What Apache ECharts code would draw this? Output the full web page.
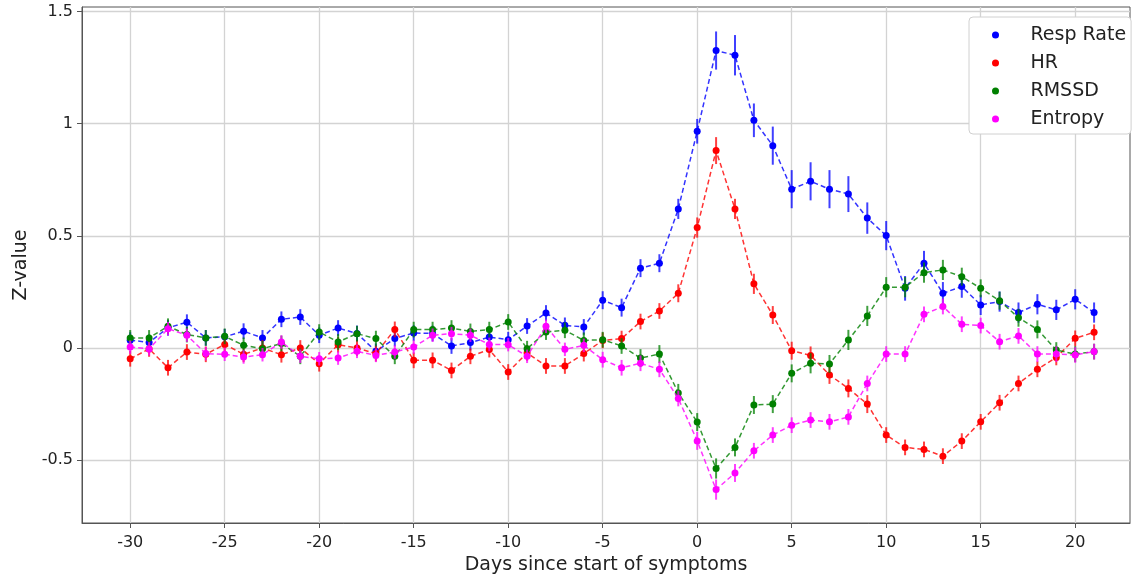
<!DOCTYPE html>
<html>
<head>
<meta charset="utf-8">
<script src="https://cdn.jsdelivr.net/npm/echarts@6.0.0/dist/echarts.min.js"></script>
<style>
  html, body { margin: 0; padding: 0; background: #fff; }
  #chart { width: 1132px; height: 574px; }
</style>
</head>
<body>
<div id="chart"></div>
<script>
// days since start of symptoms
var days = [];
for (var d = -30; d <= 21; d++) days.push(d);

var xTicks = [-30, -25, -20, -15, -10, -5, 0, 5, 10, 15, 20];
var yTicks = [-0.5, 0, 0.5, 1, 1.5];

// Resp Rate
var respRate = [0.035, 0.025, 0.09, 0.115, 0.045, 0.05, 0.075, 0.045, 0.128, 0.138,
  0.057, 0.089, 0.065, -0.015, 0.042, 0.067, 0.065, 0.009, 0.024, 0.049,
  0.037, 0.098, 0.156, 0.101, 0.094, 0.213, 0.18, 0.356, 0.378, 0.62,
  0.966, 1.326, 1.305, 1.015, 0.902, 0.708, 0.743, 0.708, 0.686, 0.579,
  0.501, 0.266, 0.378, 0.244, 0.274, 0.192, 0.207, 0.158, 0.195, 0.17,
  0.217, 0.158];
var respErr = [0.035, 0.035, 0.035, 0.035, 0.035, 0.035, 0.035, 0.035, 0.035, 0.035,
  0.035, 0.035, 0.035, 0.035, 0.035, 0.035, 0.035, 0.035, 0.035, 0.035,
  0.035, 0.035, 0.035, 0.035, 0.035, 0.04, 0.04, 0.04, 0.04, 0.045,
  0.055, 0.085, 0.09, 0.075, 0.085, 0.085, 0.085, 0.085, 0.08, 0.07,
  0.065, 0.055, 0.055, 0.05, 0.05, 0.045, 0.045, 0.045, 0.045, 0.045,
  0.045, 0.045];

// HR
var hr = [-0.048, -0.004, -0.088, -0.018, -0.028, 0.016, -0.028, 0.0, -0.03, 0.0,
  -0.07, 0.015, 0.0, -0.025, 0.083, -0.055, -0.055, -0.1, -0.037, -0.007,
  -0.107, -0.022, -0.08, -0.08, -0.025, 0.034, 0.042, 0.118, 0.165, 0.244,
  0.537, 0.88, 0.62, 0.286, 0.147, -0.012, -0.033, -0.12, -0.18, -0.25,
  -0.388, -0.443, -0.452, -0.482, -0.415, -0.329, -0.244, -0.158, -0.095, -0.042,
  0.043, 0.07];
var hrErr = [0.035, 0.035, 0.035, 0.035, 0.035, 0.035, 0.035, 0.035, 0.035, 0.035,
  0.035, 0.035, 0.035, 0.035, 0.035, 0.035, 0.035, 0.035, 0.035, 0.035,
  0.035, 0.035, 0.035, 0.035, 0.035, 0.035, 0.035, 0.035, 0.035, 0.04,
  0.045, 0.06, 0.045, 0.045, 0.04, 0.04, 0.04, 0.04, 0.04, 0.04,
  0.035, 0.035, 0.035, 0.035, 0.035, 0.035, 0.035, 0.035, 0.035, 0.035,
  0.035, 0.035];

// RMSSD
var rmssd = [0.045, 0.045, 0.097, 0.06, 0.045, 0.052, 0.012, -0.003, 0.02, -0.037,
  0.071, 0.027, 0.064, 0.042, -0.037, 0.082, 0.082, 0.089, 0.074, 0.082,
  0.116, -0.003, 0.071, 0.079, 0.034, 0.037, 0.009, -0.045, -0.027, -0.2,
  -0.33, -0.537, -0.443, -0.254, -0.25, -0.113, -0.068, -0.071, 0.036, 0.143,
  0.271, 0.271, 0.336, 0.348, 0.318, 0.266, 0.211, 0.135, 0.083, -0.009,
  -0.027, -0.016];
var rmssdErr = [0.035, 0.035, 0.035, 0.035, 0.035, 0.035, 0.035, 0.035, 0.035, 0.035,
  0.035, 0.035, 0.035, 0.035, 0.035, 0.035, 0.035, 0.035, 0.035, 0.035,
  0.035, 0.035, 0.035, 0.035, 0.035, 0.035, 0.035, 0.04, 0.04, 0.04,
  0.04, 0.045, 0.04, 0.04, 0.04, 0.04, 0.045, 0.04, 0.045, 0.045,
  0.045, 0.045, 0.045, 0.045, 0.04, 0.04, 0.04, 0.04, 0.04, 0.035,
  0.035, 0.035];

// Entropy
var entropy = [0.004, -0.004, 0.086, 0.057, -0.025, -0.028, -0.04, -0.03, 0.027, -0.037,
  -0.048, -0.045, -0.015, -0.033, -0.018, 0.004, 0.057, 0.064, 0.057, 0.016,
  0.015, -0.037, 0.097, -0.006, 0.012, -0.052, -0.088, -0.068, -0.095, -0.225,
  -0.414, -0.631, -0.557, -0.458, -0.388, -0.344, -0.321, -0.329, -0.307, -0.158,
  -0.027, -0.027, 0.15, 0.185, 0.106, 0.1, 0.028, 0.054, -0.027, -0.027,
  -0.031, -0.016];
var entropyErr = [0.03, 0.03, 0.03, 0.03, 0.03, 0.03, 0.03, 0.03, 0.03, 0.03,
  0.03, 0.03, 0.03, 0.03, 0.03, 0.03, 0.03, 0.03, 0.03, 0.03,
  0.03, 0.03, 0.03, 0.03, 0.03, 0.035, 0.035, 0.035, 0.035, 0.035,
  0.04, 0.045, 0.04, 0.035, 0.035, 0.035, 0.035, 0.035, 0.035, 0.035,
  0.035, 0.035, 0.035, 0.035, 0.035, 0.035, 0.035, 0.035, 0.035, 0.035,
  0.035, 0.035];

var seriesDefs = [
  {name: 'Resp Rate', color: '#0000ff', values: respRate, err: respErr},
  {name: 'HR', color: '#ff0000', values: hr, err: hrErr},
  {name: 'RMSSD', color: '#008000', values: rmssd, err: rmssdErr},
  {name: 'Entropy', color: '#ff00ff', values: entropy, err: entropyErr}
];

var FONT = 'DejaVu Sans';
var series = [];
seriesDefs.forEach(function (s, i) {
  var pts = [], bars = [];
  for (var k = 0; k < days.length; k++) {
    pts.push([days[k], s.values[k]]);
    bars.push([days[k], s.values[k] - s.err[k], s.values[k] + s.err[k]]);
  }
  // error bars
  series.push({
    name: s.name + ' err',
    type: 'custom',
    z: 2 + i * 2,
    silent: true,
    data: bars,
    encode: {x: 0, y: [1, 2]},
    renderItem: function (params, api) {
      var x = api.value(0);
      var p1 = api.coord([x, api.value(1)]);
      var p2 = api.coord([x, api.value(2)]);
      return {
        type: 'line',
        shape: {x1: p1[0], y1: p1[1], x2: p2[0], y2: p2[1]},
        style: {stroke: s.color, lineWidth: 2, opacity: 0.75}
      };
    }
  });
  series.push({
    name: s.name,
    type: 'line',
    z: 3 + i * 2,
    data: pts,
    symbol: 'circle',
    symbolSize: 7,
    showAllSymbol: true,
    itemStyle: {color: s.color},
    lineStyle: {color: s.color, width: 1.5, type: [5, 3], opacity: 0.8}
  });
});

var chart = echarts.init(document.getElementById('chart'));
var option = {
  animation: false,
  backgroundColor: '#fff',
  grid: {
    left: 82, right: 2, top: 7, bottom: 51,
    outerBoundsMode: 'none',
    show: true, borderColor: '#555', borderWidth: 1
  },
  legend: {
    data: seriesDefs.map(function (s) { return s.name; }),
    orient: 'vertical',
    left: 969, top: 17,
    padding: [8, 5, 5, 23],
    itemGap: 8,
    itemWidth: 30,
    itemHeight: 7,
    icon: 'circle',
    backgroundColor: '#fff',
    borderColor: '#d0d0d0',
    borderWidth: 1,
    borderRadius: 4,
    textStyle: {fontFamily: FONT, fontSize: 19, color: '#222', lineHeight: 20, padding: [0, 0, 0, 15]}
  },
  xAxis: {
    type: 'value',
    min: -32.55,
    max: 22.9,
    name: 'Days since start of symptoms',
    nameLocation: 'middle',
    nameGap: 30,
    nameTextStyle: {fontFamily: FONT, fontSize: 19, color: '#222'},
    axisLine: {show: true, onZero: false, lineStyle: {color: '#555', width: 1}},
    axisTick: {show: true, length: 5, customValues: xTicks, lineStyle: {color: '#555'}},
    axisLabel: {customValues: xTicks, margin: 12, fontFamily: FONT, fontSize: 16, color: '#222'},
    splitLine: {show: true, lineStyle: {color: '#d3d3d3', width: 1.3}}
  },
  yAxis: {
    type: 'value',
    min: -0.78,
    max: 1.52,
    name: 'Z-value',
    nameLocation: 'middle',
    nameGap: 47,
    nameTextStyle: {fontFamily: FONT, fontSize: 19, color: '#222'},
    axisLine: {show: true, onZero: false, lineStyle: {color: '#555', width: 1}},
    axisTick: {show: true, length: 5, customValues: yTicks, lineStyle: {color: '#555'}},
    axisLabel: {
      customValues: yTicks, margin: 9, fontFamily: FONT, fontSize: 16, color: '#222',
      formatter: function (v) { return String(v); }
    },
    splitLine: {show: true, lineStyle: {color: '#d3d3d3', width: 1.3}}
  },
  series: series
};
chart.setOption(option);
</script>
</body>
</html>
